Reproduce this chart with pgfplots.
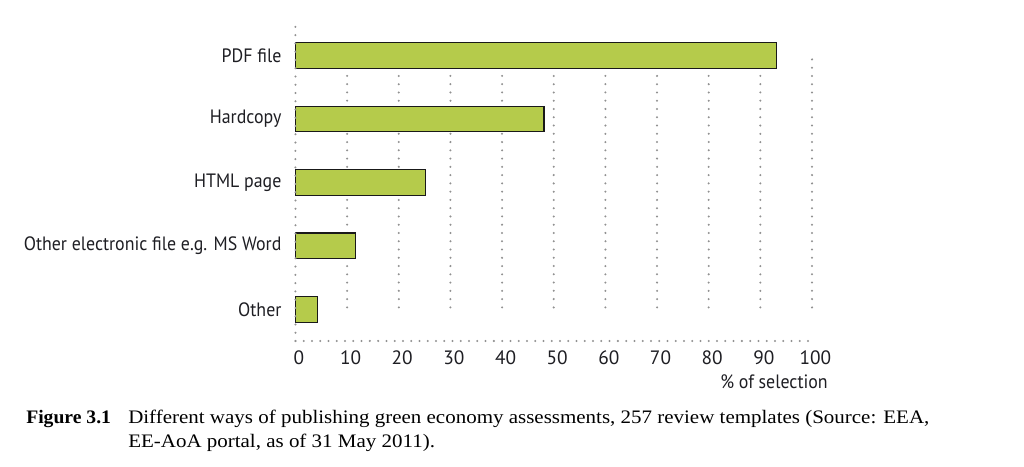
\documentclass[border=0pt]{standalone}
\usepackage{fontspec}
\setmainfont{PT Sans}
\newfontfamily\labfont[FakeStretch=0.925]{PT Sans}
\newfontfamily\capfont[FakeStretch=1.1]{Liberation Serif}
\newfontfamily\capbold[FakeStretch=1.03]{Liberation Serif}
\usepackage{pgfplots}
\pgfplotsset{compat=1.18}
\definecolor{barg}{RGB}{181,203,75}
\definecolor{dotg}{RGB}{145,145,145}
\definecolor{txt}{RGB}{30,30,35}
\tikzset{dotline/.style={draw=dotg, line width=1.7pt, line cap=round, dash pattern=on 0pt off 6.2pt}}
\begin{document}
\begin{tikzpicture}
\path (0pt,0pt) rectangle (768pt,350.25pt);
\begin{axis}[
  at={(221.6pt,94.5pt)}, anchor=south west,
  scale only axis, width=387.4pt, height=239.25pt,
  xmin=0, xmax=100, ymin=-0.5, ymax=4.53,
  axis lines=left, axis line style={-, dotline},
  axis on top,
  xtick={0,10,...,100}, ytick={0,1,2,3,4},
  yticklabels={Other, Other electronic file e.g. MS Word, HTML page, Hardcopy, PDF file},
  major tick length=0pt,
  tick label style={font=\fontsize{14.5}{16}\selectfont, text=txt},
  x tick label style={xshift=2.6pt, yshift=-4pt},
  y tick label style={xshift=-7pt, font=\labfont\fontsize{14.5}{16}\selectfont},
  /pgf/number format/assume math mode=true,
  clip=false,
]
\pgfplotsinvokeforeach{10,20,...,100}{
  \draw[dotline] (axis cs:#1,0.03) -- (axis cs:#1,3.97);
}
\addplot[xbar, bar width=0.405, fill=barg, draw=black!90, line width=0.9pt] coordinates {
  (4.3,0) (11.6,1) (25.2,2) (48.1,3) (93.1,4)
};
\end{axis}
\node[anchor=base east, font=\labfont\fontsize{14.5}{16}\selectfont, text=txt, inner sep=0pt] at (621pt,58.5pt) {\% of selection};
\node[anchor=base west, font=\capbold\fontsize{14.3}{17}\selectfont\bfseries, inner sep=0pt] at (19.5pt,32.8pt) {Figure 3.1};
\node[anchor=base west, font=\capfont\fontsize{14.3}{17}\selectfont, inner sep=0pt] at (96pt,32.8pt) {Different ways of publishing green economy assessments, 257 review templates (Source: EEA,};
\node[anchor=base west, font=\capfont\fontsize{14.3}{17}\selectfont, inner sep=0pt] at (96pt,14.8pt) {EE-AoA portal, as of 31 May 2011).};
\end{tikzpicture}
\end{document}
